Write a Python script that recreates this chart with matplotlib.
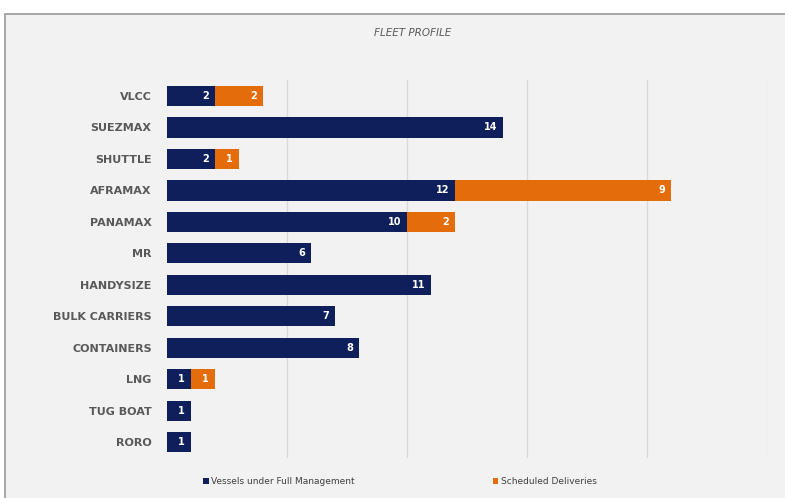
import matplotlib
matplotlib.use("Agg")
import matplotlib.pyplot as plt
from matplotlib.patches import Rectangle

# data
categories = ["VLCC", "SUEZMAX", "SHUTTLE", "AFRAMAX", "PANAMAX", "MR",
              "HANDYSIZE", "BULK CARRIERS", "CONTAINERS", "LNG", "TUG BOAT", "RORO"]
managed   = [2, 14, 2, 12, 10, 6, 11, 7, 8, 1, 1, 1]
scheduled = [2, 0, 1, 9, 2, 0, 0, 0, 0, 1, 0, 0]

NAVY = "#0e1f5b"
ORANGE = "#e46c0a"
BG = "#f2f2f2"

fig = plt.figure(figsize=(7.85, 4.98), dpi=100)
fig.patch.set_facecolor("white")
# chart frame
fig.patches.append(Rectangle((0.007, -0.01), 1.0, 0.982, transform=fig.transFigure,
                             facecolor=BG, edgecolor="#9a9a9a", linewidth=1.2, zorder=-10))

ax = fig.add_axes([0.2127, 0.080, 0.765, 0.759])
ax.set_facecolor(BG)

y = list(range(len(categories)))
ax.barh(y, managed, height=0.64, color=NAVY, zorder=3)
ax.barh(y, scheduled, left=managed, height=0.64, color=ORANGE, zorder=3)

for i, (m, s) in enumerate(zip(managed, scheduled)):
    if m:
        ax.text(m - 0.25, i, str(m), ha="right", va="center", color="white",
                fontsize=7, fontweight="bold", zorder=4)
    if s:
        ax.text(m + s - 0.25, i, str(s), ha="right", va="center", color="white",
                fontsize=7, fontweight="bold", zorder=4)

ax.set_xlim(0, 25)
ax.set_ylim(len(categories) - 0.5, -0.5)
ax.set_xticks([5, 10, 15, 20, 25])
ax.set_xticklabels([])
ax.tick_params(length=0)
ax.grid(axis="x", color="#d9d9d9", linewidth=1, zorder=0)
ax.set_yticks(y)
ax.set_yticklabels(categories, fontsize=8, fontweight="bold", color="#595959")
ax.tick_params(axis="y", pad=11)
for sp in ax.spines.values():
    sp.set_visible(False)

fig.text(0.525, 0.934, "FLEET PROFILE", ha="center", va="center", fontsize=7.5,
         style="italic", color="#595959")

# legend
fig.patches.append(Rectangle((0.2585, 0.028), 0.0075, 0.012, transform=fig.transFigure,
                             facecolor=NAVY, edgecolor="none"))
fig.text(0.269, 0.034, "Vessels under Full Management", ha="left", va="center",
         fontsize=6.5, color="#404040")
fig.patches.append(Rectangle((0.6275, 0.028), 0.0075, 0.012, transform=fig.transFigure,
                             facecolor=ORANGE, edgecolor="none"))
fig.text(0.638, 0.034, "Scheduled Deliveries", ha="left", va="center",
         fontsize=6.5, color="#404040")

fig.savefig("out.png", dpi=100, facecolor=fig.get_facecolor())
